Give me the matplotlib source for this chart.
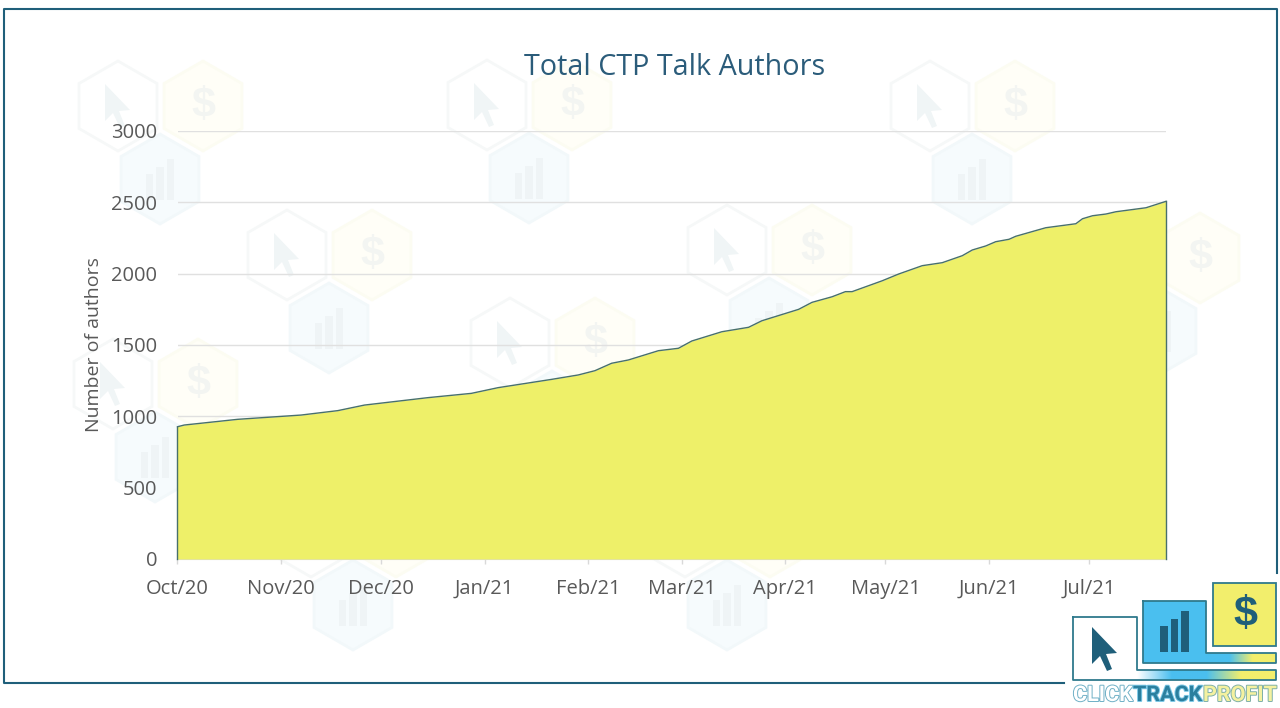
import numpy as np
import pandas as pd
import matplotlib.pyplot as plt
import matplotlib.patheffects as pe
from matplotlib.colors import LinearSegmentedColormap
from matplotlib.patches import Polygon, Rectangle

plt.rcParams["font.family"] = ["Open Sans", "DejaVu Sans"]

TITLE = "Total CTP Talk Authors"
Y_LABEL = "Number of authors"

dates = [
    "2020-10-01", "2020-10-03", "2020-10-19", "2020-11-07", "2020-11-18",
    "2020-11-26", "2020-12-15", "2020-12-28", "2021-01-05", "2021-01-21",
    "2021-01-29", "2021-02-03", "2021-02-08", "2021-02-13", "2021-02-22",
    "2021-02-28", "2021-03-04", "2021-03-13", "2021-03-21", "2021-03-25",
    "2021-04-05", "2021-04-09", "2021-04-15", "2021-04-19", "2021-04-21",
    "2021-04-30", "2021-05-05", "2021-05-12", "2021-05-18", "2021-05-24",
    "2021-05-27", "2021-05-31", "2021-06-03", "2021-06-07", "2021-06-09",
    "2021-06-18", "2021-06-27", "2021-06-29", "2021-07-02", "2021-07-06",
    "2021-07-09", "2021-07-18", "2021-07-24",
]
authors = [
    927, 939, 979, 1009, 1040,
    1079, 1131, 1161, 1201, 1259,
    1290, 1320, 1372, 1395, 1460,
    1477, 1528, 1593, 1624, 1670,
    1750, 1799, 1838, 1874, 1874,
    1950, 1998, 2056, 2077, 2126,
    2166, 2194, 2224, 2241, 2262,
    2322, 2350, 2385, 2406, 2418,
    2434, 2462, 2507,
]
month_ticks = [
    "2020-10-01", "2020-11-01", "2020-12-01", "2021-01-01", "2021-02-01",
    "2021-03-01", "2021-04-01", "2021-05-01", "2021-06-01", "2021-07-01",
]
month_labels = [
    "Oct/20", "Nov/20", "Dec/20", "Jan/21", "Feb/21",
    "Mar/21", "Apr/21", "May/21", "Jun/21", "Jul/21",
]
y_ticks = [0, 500, 1000, 1500, 2000, 2500, 3000]

W, H = 1280, 708
TEAL = "#1f5f7a"
EDGE = "#2f7a8c"
YELLOW = "#f2ee6c"
BLUE = "#4abfef"
ARROW = [(-13, -22), (-13, 15), (-5, 7), (2, 22), (7, 20), (1, 5), (12, 4)]


def hexagon(ax, cx, cy, r, face, edge, lw=2):
    angles = np.radians(np.arange(30, 390, 60))
    pts = np.column_stack([cx + r * np.cos(angles), cy + r * np.sin(angles)])
    ax.add_patch(Polygon(pts, closed=True, facecolor=face, edgecolor=edge, linewidth=lw))


def bars(ax, cx, base, color, zorder=1):
    for dx, h in zip((-10.5, 0, 10.5), (26, 33, 41)):
        ax.add_patch(Rectangle((cx + dx - 3.9, base - h), 7.8, h, facecolor=color,
                               edgecolor="none", zorder=zorder))


def arrow(ax, cx, cy, color, zorder=1):
    pts = [(cx + x, cy + y) for x, y in ARROW]
    ax.add_patch(Polygon(pts, closed=True, facecolor=color, edgecolor="none", zorder=zorder))


def dollar(ax, cx, cy, color, zorder=1):
    ax.text(cx, cy, "$", ha="center", va="center", fontsize=31, fontweight="bold",
            color=color, family="Liberation Sans", zorder=zorder)


def watermark(ax, cx, cy):
    hexagon(ax, cx, cy, 45, "#ffffff", "#f6f8f8")
    arrow(ax, cx, cy, "#f0f5f6")
    hexagon(ax, cx + 85, cy, 45, "#fffef7", "#fcfcf2")
    dollar(ax, cx + 85, cy, "#f3f5f2")
    hexagon(ax, cx + 42, cy + 73, 45, "#f6fbfd", "#f2f8fa")
    bars(ax, cx + 42, cy + 94, "#eff4f6")


def gradient(ax, extent, colors):
    cmap = LinearSegmentedColormap.from_list("strip", colors)
    ax.imshow(np.linspace(0, 1, 256)[None, :], cmap=cmap, extent=extent, aspect="auto", zorder=3)


fig = plt.figure(figsize=(W / 100, H / 100), dpi=100, facecolor="white")

# page layer in pixel coordinates: watermark, frame and logo
page = fig.add_axes([0, 0, 1, 1], zorder=0)
page.axis("off")

for cx, cy in [(118, 106), (487, 105), (930, 106), (287, 255), (727, 250),
               (510, 343), (113, 384), (1115, 258), (311, 532), (685, 532)]:
    watermark(page, cx, cy)

page.plot([1277, 1277, 4, 4, 1064], [573, 9, 9, 683, 683], color=TEAL, lw=1.5, zorder=2)

# logo boxes
page.add_patch(Rectangle((1213, 583), 63, 63, facecolor=YELLOW, edgecolor=EDGE, lw=1.3, zorder=3))
page.add_patch(Rectangle((1143, 601), 63, 62, facecolor=BLUE, edgecolor="none", zorder=3))
page.add_patch(Rectangle((1073, 617), 64, 63, facecolor="white", edgecolor="none", zorder=3))
gradient(page, (1206, 1276, 663, 653), [BLUE, BLUE, YELLOW, YELLOW])
gradient(page, (1137, 1276, 680, 670), ["white", BLUE, BLUE, YELLOW, YELLOW])
page.plot([1143, 1206, 1206, 1276, 1276, 1143, 1143], [601, 601, 653, 653, 663, 663, 601],
          color=EDGE, lw=1.3, zorder=4)
page.plot([1073, 1137, 1137, 1276, 1276, 1073, 1073], [617, 617, 670, 670, 680, 680, 617],
          color=EDGE, lw=1.3, zorder=4)
arrow(page, 1105, 649, TEAL, zorder=5)
bars(page, 1174.5, 652, TEAL, zorder=5)
dollar(page, 1245, 615, TEAL, zorder=5)

for x0, word, fill, outline in [(1073, "CLICK", "white", "#6fb0c6"),
                                (1133, "TRACK", "#2a7f9e", "#7cc8e6"),
                                (1203, "PROFIT", "#f4f1a0", "#7fb0a8")]:
    page.text(x0, 695, word, ha="left", va="center", fontsize=15.5, fontweight="bold", color=fill,
              family="Roboto", zorder=5,
              path_effects=[pe.withStroke(linewidth=1.4, foreground=outline)])

page.set_xlim(0, W)
page.set_ylim(H, 0)

# chart layer
df = pd.DataFrame({"date": pd.to_datetime(dates), "authors": authors})
left, right, top, bottom = 177.5, 1166, 131, 559
ax = fig.add_axes([left / W, 1 - bottom / H, (right - left) / W, (bottom - top) / H], zorder=1)
ax.patch.set_visible(False)

line_color = "#48706c"
ax.fill_between(df["date"], df["authors"], 0, color="#eef069", linewidth=0, zorder=3)
ax.plot(df["date"], df["authors"], color=line_color, lw=1, zorder=4, clip_on=False)
ax.plot([df["date"].iloc[0]] * 2, [0, authors[0]], color=line_color, lw=1, zorder=4, clip_on=False)
ax.plot([df["date"].iloc[-1]] * 2, [0, authors[-1]], color=line_color, lw=1, zorder=4, clip_on=False)

ax.set_xlim(df["date"].iloc[0], df["date"].iloc[-1])
ax.set_ylim(0, 3000)
ax.set_xticks(pd.to_datetime(month_ticks))
ax.set_xticklabels(month_labels)
ax.set_yticks(y_ticks)
ax.grid(axis="y", color="#e0e0e0", lw=1, zorder=1)
ax.set_axisbelow(True)

for side in ("top", "right", "left"):
    ax.spines[side].set_visible(False)
ax.spines["bottom"].set_color("#d9d9d9")
ax.tick_params(axis="x", length=3.6, width=1, color="#d9d9d9", labelcolor="#595959", labelsize=14.5, pad=21.6)
ax.tick_params(axis="y", length=0, labelcolor="#595959", labelsize=14.5, pad=14.4)
for label in ax.get_xticklabels():
    label.set_verticalalignment("baseline")

page.text(94, 345, Y_LABEL, rotation=90, ha="center", va="center", fontsize=14, color="#595959")
page.text(674.5, 67.5, TITLE, ha="center", va="center", fontsize=20.7, color="#2b5c7a")

fig.savefig("out.png", dpi=100)
